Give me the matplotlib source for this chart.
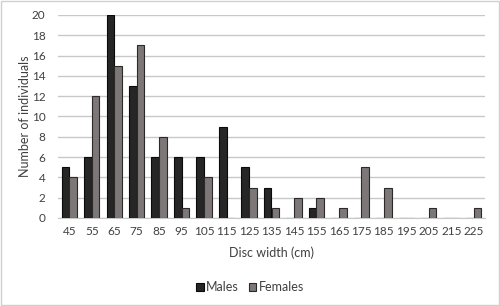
import matplotlib
matplotlib.use("Agg")
import matplotlib.pyplot as plt
import numpy as np
from matplotlib.patches import Rectangle

categories = ["45", "55", "65", "75", "85", "95", "105", "115", "125", "135",
              "145", "155", "165", "175", "185", "195", "205", "215", "225"]
males = [5, 6, 20, 13, 6, 6, 6, 9, 5, 3, 0, 1, 0, 0, 0, 0, 0, 0, 0]
females = [4, 12, 15, 17, 8, 1, 4, 0, 3, 1, 2, 2, 1, 5, 3, 0, 1, 0, 1]

plt.rcParams['font.family'] = ['Lato', 'DejaVu Sans']

fig = plt.figure(figsize=(5.0, 3.06), dpi=100)
ax = fig.add_axes([0.116, 0.2876, 0.854, 0.6634])

x = np.arange(len(categories))
w = 0.34
ax.bar(x - w/2, males, width=w, color='#262626', edgecolor='#0a0a0a', linewidth=0.8, label='Males', zorder=3)
ax.bar(x + w/2, females, width=w, color='#7d7777', edgecolor='#2a2a2a', linewidth=0.8, label='Females', zorder=3)

ax.set_xlim(-0.5, len(categories) - 0.5)
ax.set_ylim(0, 20)
ax.set_yticks(range(0, 21, 2))
ax.set_xticks(x)
ax.set_xticklabels(categories)
ax.yaxis.grid(True, color='#c8c8c8', linewidth=1)
ax.set_axisbelow(True)
for s in ['top', 'right', 'left']:
    ax.spines[s].set_visible(False)
ax.spines['bottom'].set_color('#c8c8c8')
ax.tick_params(axis='both', length=0, labelsize=8.5, colors='#404040')
ax.tick_params(axis='x', pad=6)
ax.tick_params(axis='y', pad=9)
ax.set_xlabel('Disc width (cm)', fontsize=9, color='#404040')
ax.set_ylabel('Number of individuals', fontsize=9, color='#404040')
ax.yaxis.set_label_coords(-0.064, 0.5)
ax.xaxis.set_label_coords(0.5, -0.138)

leg = fig.legend(loc='center', bbox_to_anchor=(0.5, 0.062), ncol=2, frameon=False,
                 fontsize=9, handlelength=0.6, handleheight=0.6, handletextpad=0.2,
                 columnspacing=0.8, labelcolor='#404040')

fig.patches.append(Rectangle((0.002, 0.003), 0.996, 0.994, transform=fig.transFigure,
                             fill=False, edgecolor='#d0d0d0', linewidth=1))

fig.savefig('out.png', dpi=100)
